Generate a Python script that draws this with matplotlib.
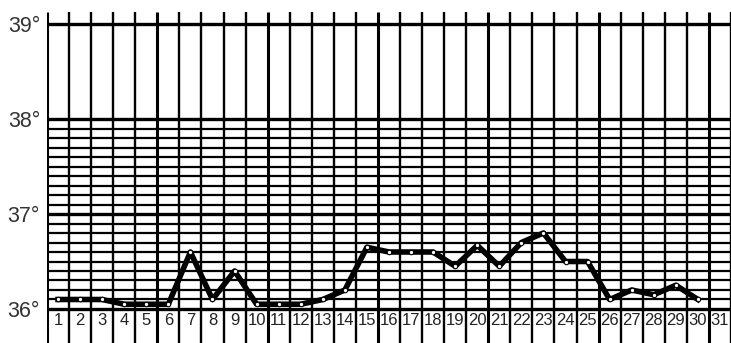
import matplotlib.pyplot as plt
import numpy as np

days = list(range(1, 32))
temp_days = list(range(1, 31))
temps = [36.1, 36.1, 36.1, 36.05, 36.05, 36.05, 36.6, 36.1, 36.4, 36.05,
         36.05, 36.05, 36.1, 36.2, 36.65, 36.6, 36.6, 36.6, 36.45, 36.67,
         36.45, 36.7, 36.8, 36.5, 36.5, 36.1, 36.2, 36.15, 36.25, 36.1]
y_ticks = [36, 37, 38, 39]
y_labels = ["36°", "37°", "38°", "39°"]

fig = plt.figure(figsize=(7.31, 3.43), dpi=100)
ax = fig.add_axes([47 / 731, 0, 684 / 731, 1])
ax.set_xlim(0, 31)
ax.set_ylim(35.642, 39.253)
for s in ax.spines.values():
    s.set_visible(False)

# fine grid 36.0 - 38.0
fine = np.round(np.arange(36.0, 38.01, 0.1), 1)
for y in fine:
    lw = 2.4 if y in (36.0, 37.0, 38.0) else 1.6
    ax.hlines(y, 0, 31, color="black", lw=lw, zorder=1)
ax.hlines(39, 0, 31, color="black", lw=2.4, zorder=1)

# day columns
for x in range(0, 32):
    lw = 2.2 if x % 5 == 0 else 1.7
    ax.vlines(x, 35.5, 39.126, color="black", lw=lw, zorder=1)

for d in days:
    ax.text(d - 0.5, 35.874, str(d), ha="center", va="center", fontsize=12,
            family="Liberation Sans", color="#222222")

ax.plot([d - 0.5 for d in temp_days], temps, color="black", lw=4,
        marker="o", ms=3.2, mfc="white", mec="black", mew=0.8, zorder=3)

ax.set_xticks([])
ax.set_yticks(y_ticks)
ax.set_yticklabels(y_labels, fontsize=15.5, family="Liberation Sans", color="#333333")
ax.tick_params(axis="y", length=0, pad=5)

fig.savefig("out.png", dpi=100)
